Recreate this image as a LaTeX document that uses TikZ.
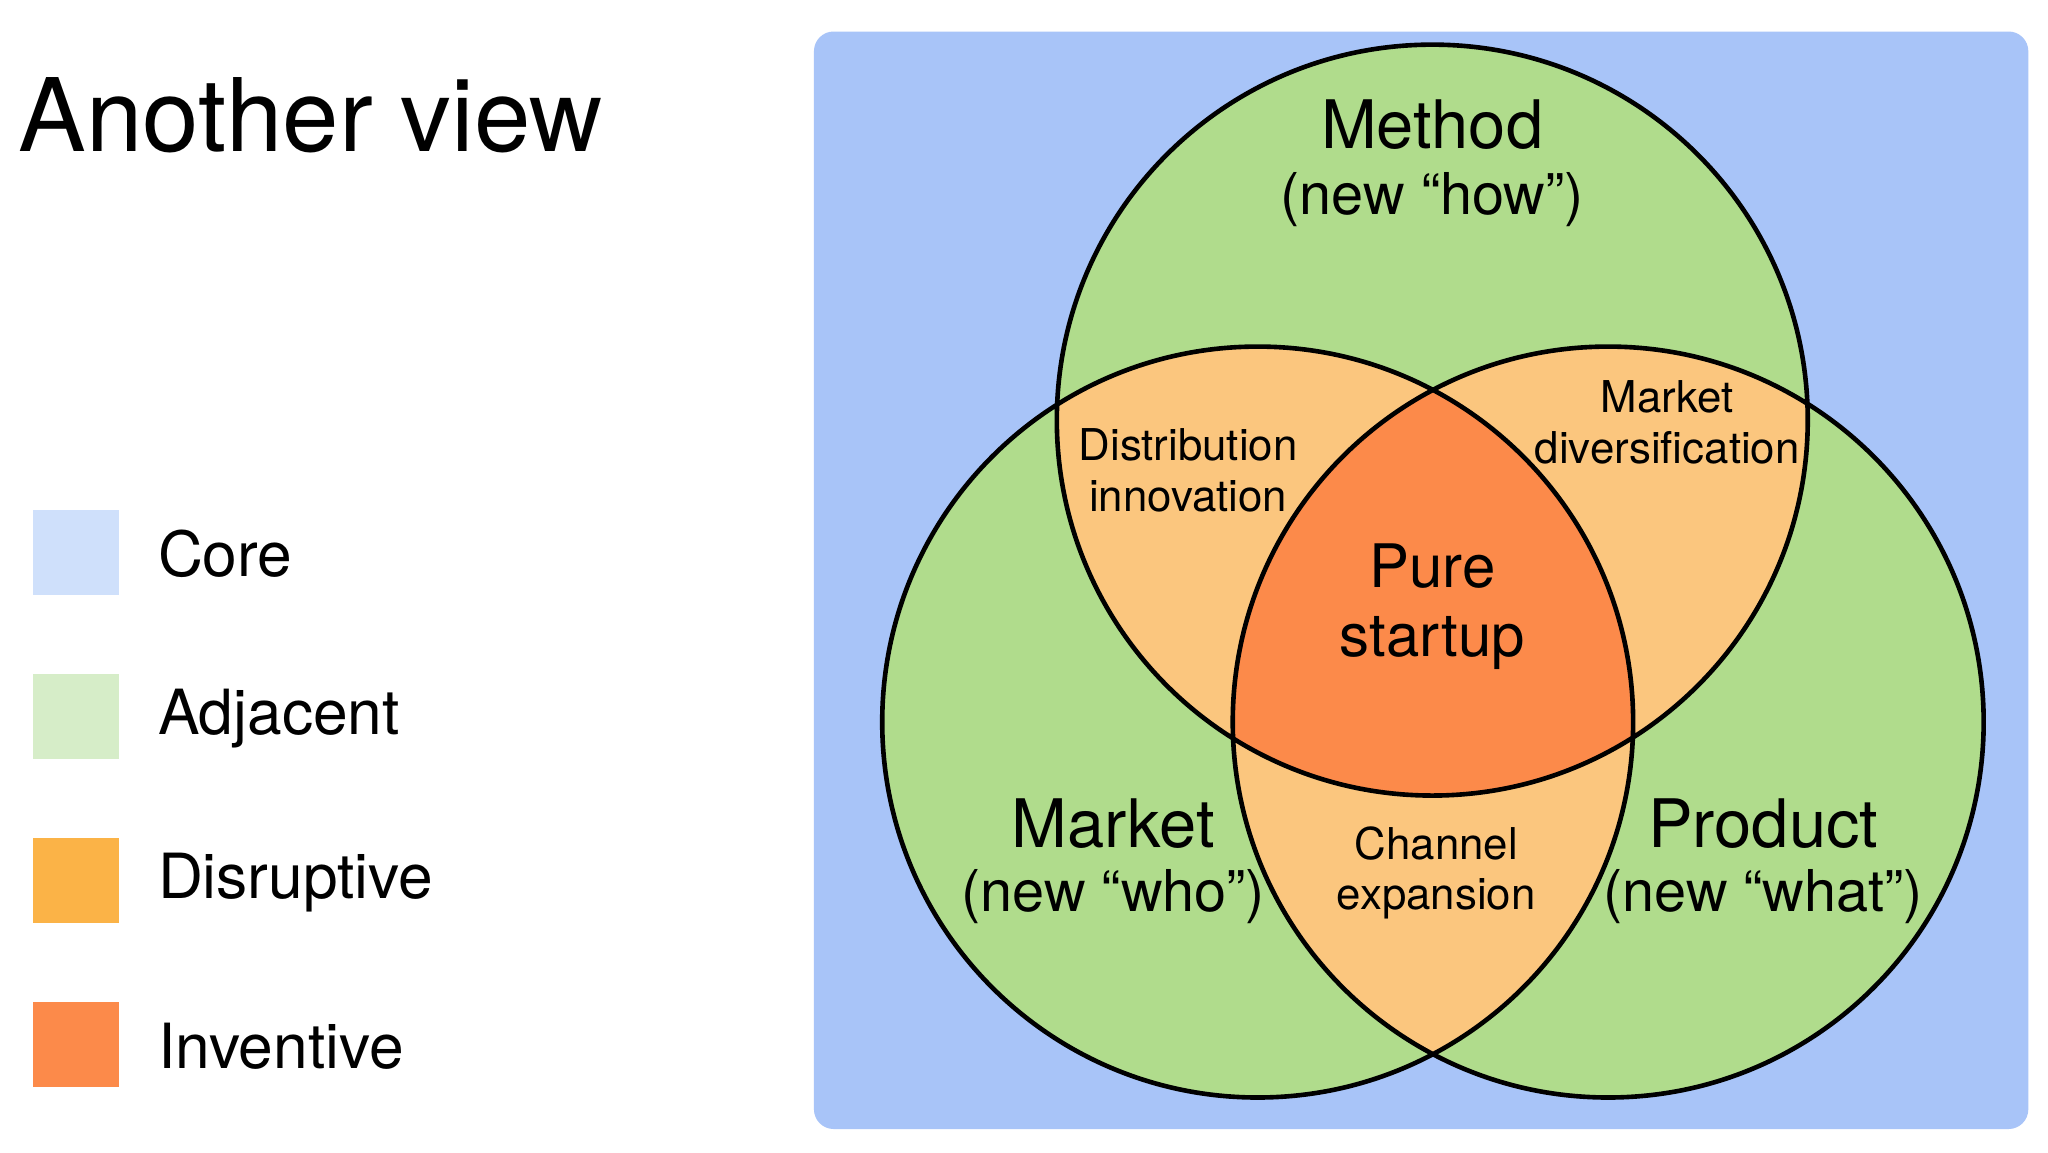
\documentclass[tikz,border=0pt]{standalone}
\usepackage{fontspec}
\setmainfont{TeX Gyre Heros}
\definecolor{bgblue}{HTML}{A8C4F8}
\definecolor{grn}{HTML}{B0DC8C}
\definecolor{lor}{HTML}{FBC67E}
\definecolor{dor}{HTML}{FC8A4A}
\definecolor{lcore}{HTML}{CFE0FB}
\definecolor{ladj}{HTML}{D6EDC8}
\definecolor{ldis}{HTML}{FBB347}
\newcommand{\fs}[1]{\fontsize{#1}{#1}\selectfont}
\begin{document}
\begin{tikzpicture}[x=0.02cm,y=-0.02cm,
  lbl/.style={anchor=center,inner sep=0pt,align=center},
  leg/.style={anchor=west,inner sep=0pt,font=\fs{27pt}},
  sq/.style={minimum size=1.3cm,inner sep=0pt,draw=none,anchor=north west},
  ring/.style={draw=black,line width=2pt}]
\useasboundingbox (0,0) rectangle (1560,878);
\fill[white] (0,0) rectangle (1560,878);
\node[anchor=west,inner sep=0pt,font=\fs{44pt}] (title) at (14,88) {Another view};
\node[sq,fill=lcore] (s1) at (25,388) {};
\node[sq,fill=ladj] (s2) at (25,513) {};
\node[sq,fill=ldis] (s3) at (25,638) {};
\node[sq,fill=dor] (s4) at (25,763) {};
\node[leg] (t1) at (120,422) {Core};
\node[leg] (t2) at (120,547) {Adjacent};
\node[leg] (t3) at (120,672) {Disruptive};
\node[leg] (t4) at (120,797) {Inventive};
\fill[bgblue,rounded corners=0.3cm] (620,24) rectangle (1545,860);
\def\rr{286}
\coordinate (A) at (1091,320);
\coordinate (B) at (958,550);
\coordinate (C) at (1225,550);
\fill[grn] (A) circle (\rr) (B) circle (\rr) (C) circle (\rr);
\begin{scope}\clip (A) circle (\rr); \fill[lor] (B) circle (\rr) (C) circle(\rr);\end{scope}
\begin{scope}\clip (B) circle (\rr); \fill[lor] (C) circle (\rr);\end{scope}
\begin{scope}\clip (A) circle (\rr); \clip (B) circle (\rr); \fill[dor] (C) circle (\rr);\end{scope}
\draw[ring] (A) circle (\rr) (B) circle (\rr) (C) circle (\rr);
\node[lbl,font=\fs{29pt}] (m1) at (1091,95) {Method};
\node[lbl,font=\fs{25pt}] (m2) at (1091,152) {(new “how”)};
\node[lbl,font=\fs{29pt}] (k1) at (848,627) {Market};
\node[lbl,font=\fs{25pt}] (k2) at (848,683) {(new “who”)};
\node[lbl,font=\fs{29pt}] (p1) at (1343,627) {Product};
\node[lbl,font=\fs{25pt}] (p2) at (1343,683) {(new “what”)};
\node[lbl,font=\fs{26pt}] (ps) at (1091,462) {Pure\\[4pt]startup};
\node[lbl,font=\fs{19pt}] (di) at (905,358) {Distribution\\[3pt]innovation};
\node[lbl,font=\fs{19pt}] (md) at (1270,322) {Market\\[3pt]diversification};
\node[lbl,font=\fs{19pt}] (ce) at (1094,665) {Channel\\[3pt]expansion};
\end{tikzpicture}
\end{document}
